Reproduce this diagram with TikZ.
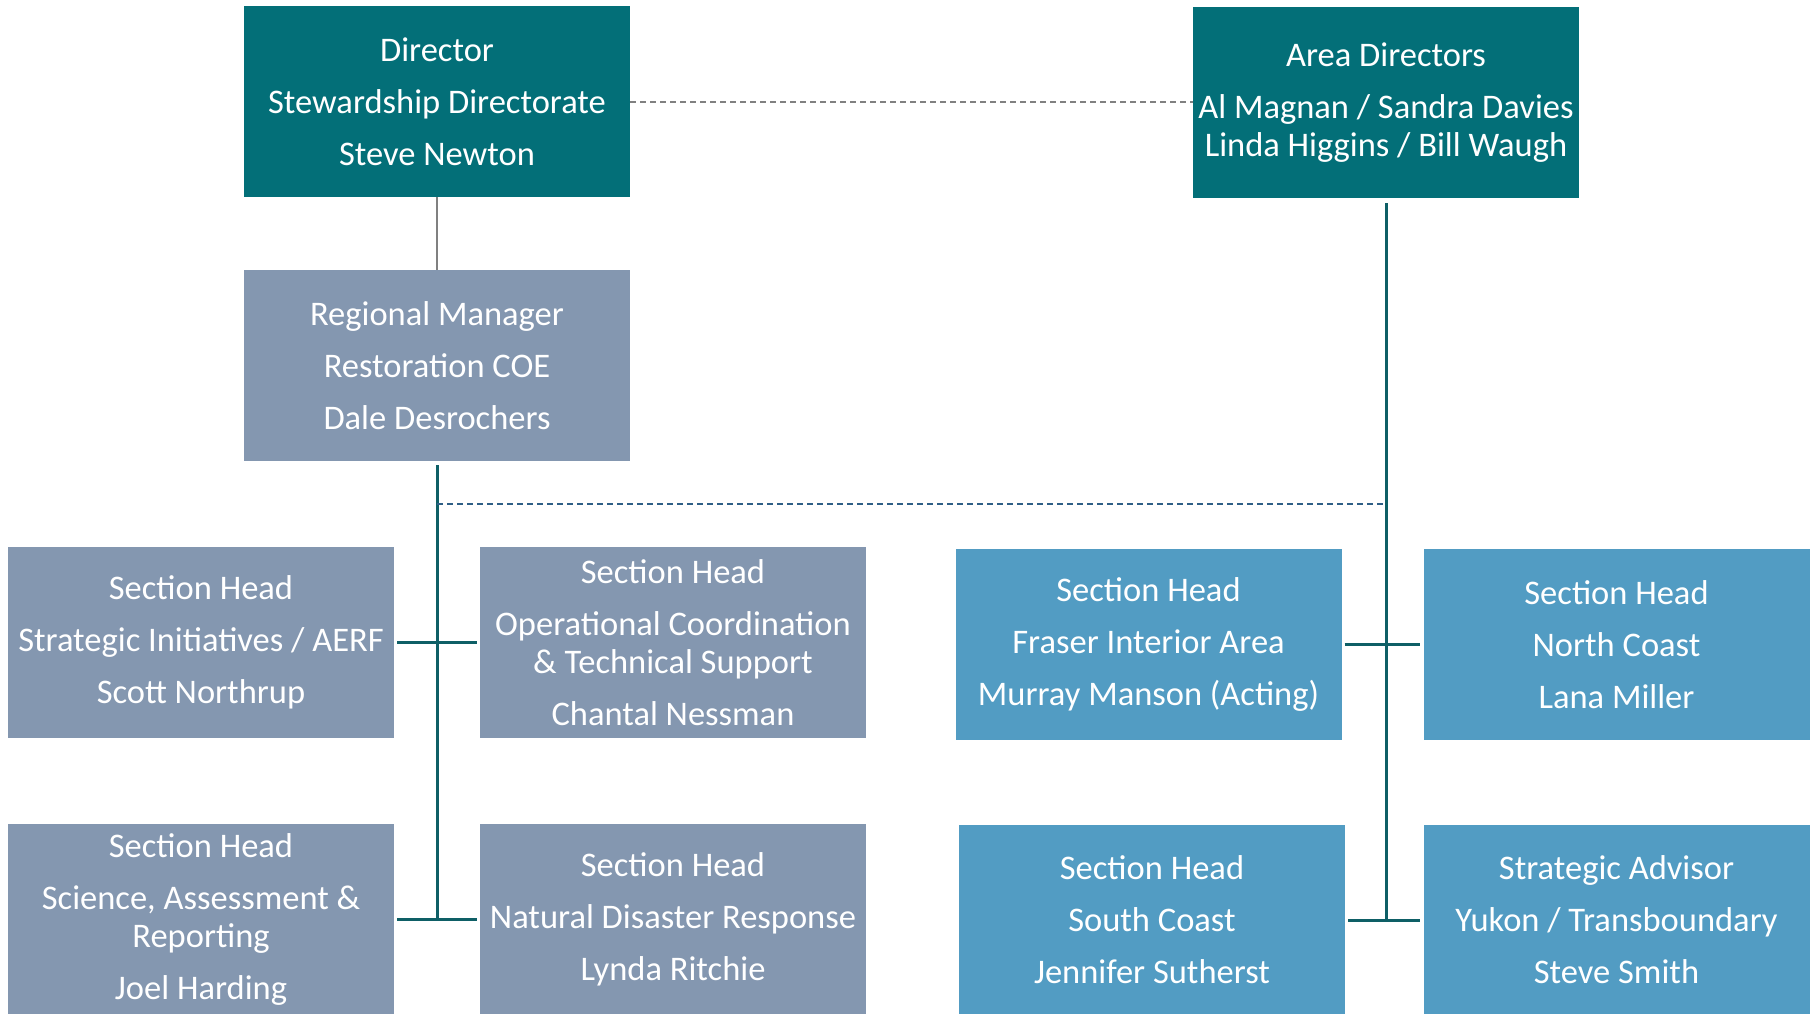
\documentclass[tikz,border=0pt]{standalone}
\usepackage{fontspec}
\setmainfont{Carlito}
\usetikzlibrary{positioning}
\definecolor{teal1}{HTML}{036F78}
\definecolor{grayblue}{HTML}{8497B0}
\definecolor{lightblue}{HTML}{529CC3}
\definecolor{linkteal}{HTML}{0E5F66}
\definecolor{dashblue}{HTML}{2F5F86}

\begin{document}
\begin{tikzpicture}[x=1pt, y=-1pt,
      box/.style={rectangle, inner sep=0pt, minimum width=386pt, minimum height=191pt, text=white, align=center, font=\fontsize{34.5}{38}\selectfont},
      top/.style={box, fill=teal1},
      mgr/.style={box, fill=grayblue},
      area/.style={box, fill=lightblue},
      link/.style={linkteal, line width=3pt},
      thin/.style={gray, line width=1.2pt},
      dot/.style={dashed, line width=2pt, dash pattern=on 6pt off 4pt}]

\useasboundingbox (0,0) rectangle (1817,1013);

\node[top] (d0) at (437,101.5) {Director\\[14pt] Stewardship Directorate\\[14pt] Steve Newton};
\node[top] (a0) at (1386,102.5) {Area Directors\\[14pt] Al Magnan / Sandra Davies\\ Linda Higgins / Bill Waugh};
\node[mgr] (r0) at (437,365.5) {Regional Manager\\[14pt] Restoration COE\\[14pt] Dale Desrochers};

\node[mgr] (s1) at (201,642.5) {Section Head\\[14pt] Strategic Initiatives / AERF\\[14pt] Scott Northrup};
\node[mgr] (s2) at (673,642.5) {Section Head\\[14pt] Operational Coordination\\ \& Technical Support\\[14pt] Chantal Nessman};
\node[mgr] (s3) at (201,919) {Section Head\\[14pt] Science, Assessment \&\\ Reporting\\[14pt] Joel Harding};
\node[mgr] (s4) at (673,919) {Section Head\\[14pt] Natural Disaster Response\\[14pt] Lynda Ritchie};

\node[area] (h1) at (1148.5,644.5) {Section Head\\[14pt] Fraser Interior Area\\[14pt] Murray Manson (Acting)};
\node[area] (h2) at (1616.5,644.5) {Section Head\\[14pt] North Coast\\[14pt] Lana Miller};
\node[area] (h3) at (1152,920) {Section Head\\[14pt] South Coast\\[14pt] Jennifer Sutherst};
\node[area] (h4) at (1616.5,920) {Strategic Advisor\\[14pt] Yukon / Transboundary\\[14pt] Steve Smith};

\coordinate (lmid) at (437,504);
\coordinate (rmid) at (1386,504);
\coordinate (lend) at (437,919);
\coordinate (rend) at (1386,920);

\draw[thin, dot, gray] (d0.east) -- (d0.east -| a0.west);
\draw[thin] (d0) -- (r0);
\draw[link] ([yshift=-4pt]r0.south) -- (lend);
\draw[link] ([yshift=-5pt]a0.south) -- (rend);
\draw[dot, dashblue] (lmid) -- (rmid);
\draw[link] ([xshift=3pt]s1.east) -- ([xshift=-3pt]s2.west);
\draw[link] ([xshift=3pt]s3.east) -- ([xshift=-3pt]s4.west);
\draw[link] ([xshift=3pt]h1.east) -- ([xshift=-3pt]h2.west);
\draw[link] ([xshift=3pt]h3.east) -- ([xshift=-3pt]h4.west);

\end{tikzpicture}
\end{document}
